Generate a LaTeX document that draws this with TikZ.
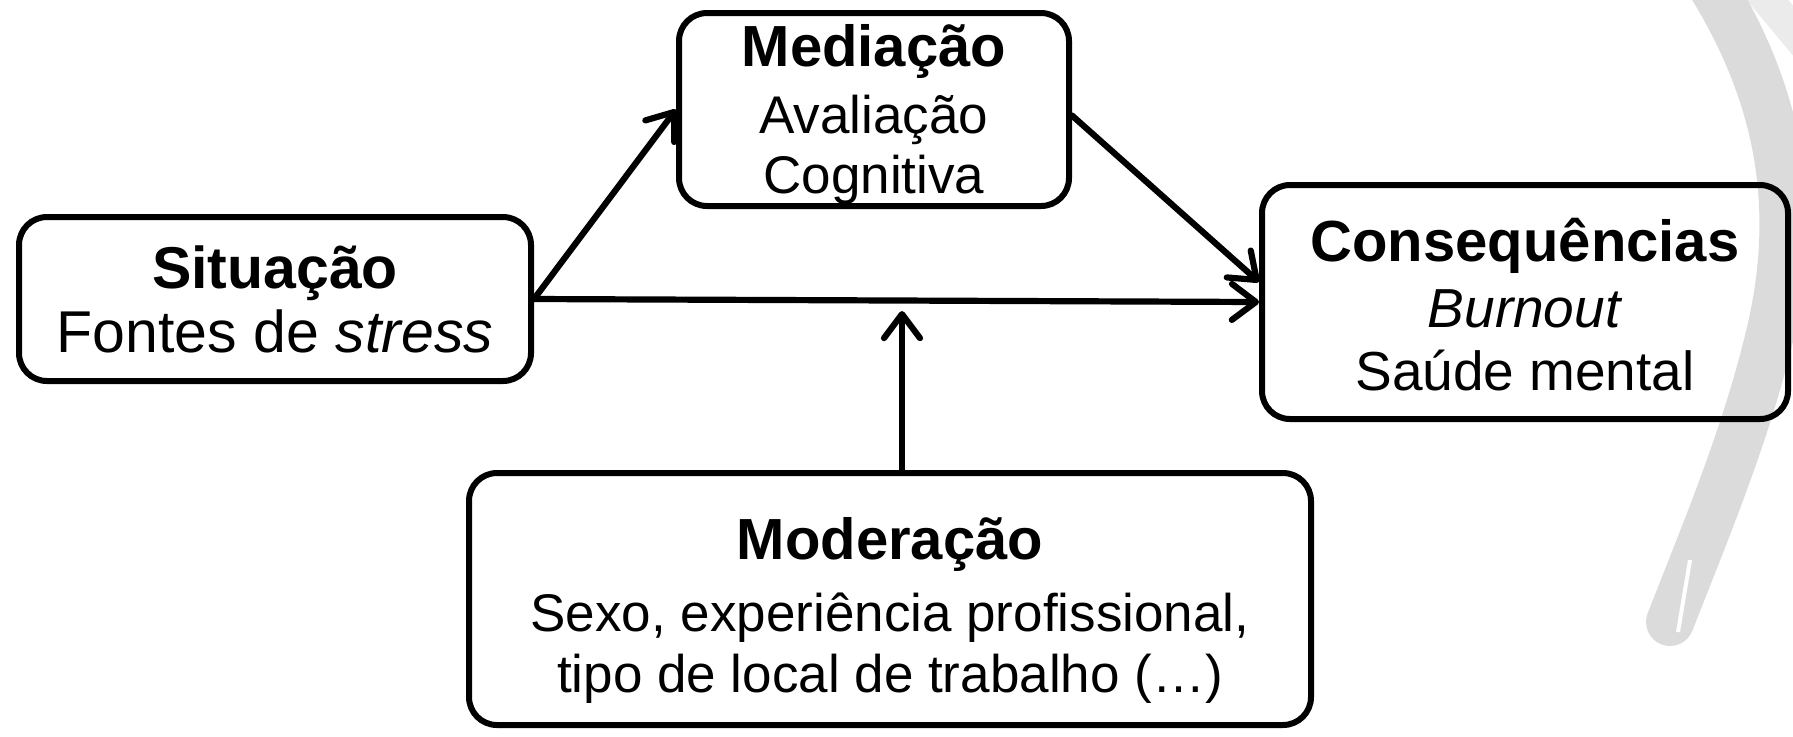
\documentclass[tikz,border=0pt]{standalone}
\usepackage{fontspec}
\setmainfont{Liberation Sans}
\usetikzlibrary{arrows.meta}
\tikzset{
  box/.style={draw=black, line width=3pt, rounded corners=14pt, rectangle, inner sep=0pt},
  ttl/.style={anchor=base, inner sep=0pt, font=\fontsize{29}{32}\selectfont\bfseries},
  txt/.style={anchor=base, inner sep=0pt, font=\fontsize{27.5}{31}\selectfont},
  arr/.style={line width=3.1pt, line cap=round, -{Straight Barb[length=12pt,width=18pt,round]}},
  deco/.style={line cap=round, color=black!14},
}
\begin{document}
\begin{tikzpicture}[x=0.5pt,y=-0.5pt]
\useasboundingbox (0,0) rectangle (1793,736);
% faint decorative background shape
\draw[deco, line width=16pt, color=black!8] (1755,-15) -- (1805,45);
\draw[deco, line width=24pt] (1708,-20) .. controls (1790,110) and (1798,230) .. (1766,350) .. controls (1742,445) and (1702,540) .. (1670,622);
\draw[line width=2pt, color=white] (1690,560) -- (1678,632);
% boxes
\node[box, minimum width=256pt, minimum height=82pt] (sit) at (275,299) {};
\node[box, minimum width=195pt, minimum height=96.5pt] (med) at (874,109.5) {};
\node[box, minimum width=263pt, minimum height=117pt] (cons) at (1525,302) {};
\node[box, minimum width=421pt, minimum height=126pt] (mod) at (890,599) {};
% texts
\node[ttl, font=\fontsize{29.5}{32}\selectfont\bfseries] (sit1) at (275,288) {Situação};
\node[txt, font=\fontsize{29.5}{31}\selectfont] (sit2) at (275,352) {Fontes de \textit{stress}};
\node[ttl] (med1) at (874,66) {Mediação};
\node[txt, font=\fontsize{26.5}{31}\selectfont] (med2) at (874,133) {Avaliação};
\node[txt, font=\fontsize{26.5}{31}\selectfont] (med3) at (874,193) {Cognitiva};
\node[ttl] (cons1) at (1525,261) {Consequências};
\node[txt] (cons2) at (1525,327) {\textit{Burnout}};
\node[txt] (cons3) at (1525,390) {Saúde mental};
\node[ttl] (mod1) at (890,559) {Moderação};
\node[txt, font=\fontsize{26.5}{31}\selectfont] (mod2) at (890,631) {Sexo, experiência profissional,};
\node[txt, font=\fontsize{26.5}{31}\selectfont] (mod3) at (890,692) {tipo de local de trabalho (…)};
% connectors
\coordinate (modtip) at (902,311);
\draw[arr] (sit.east) -- (med.west);
\draw[arr] (sit.east) -- (cons.west);
\draw[arr] ([yshift=-3pt]med.east) -- ([yshift=10pt]cons.west);
\draw[arr] ([xshift=6pt]mod.north) -- (modtip);
\end{tikzpicture}
\end{document}
